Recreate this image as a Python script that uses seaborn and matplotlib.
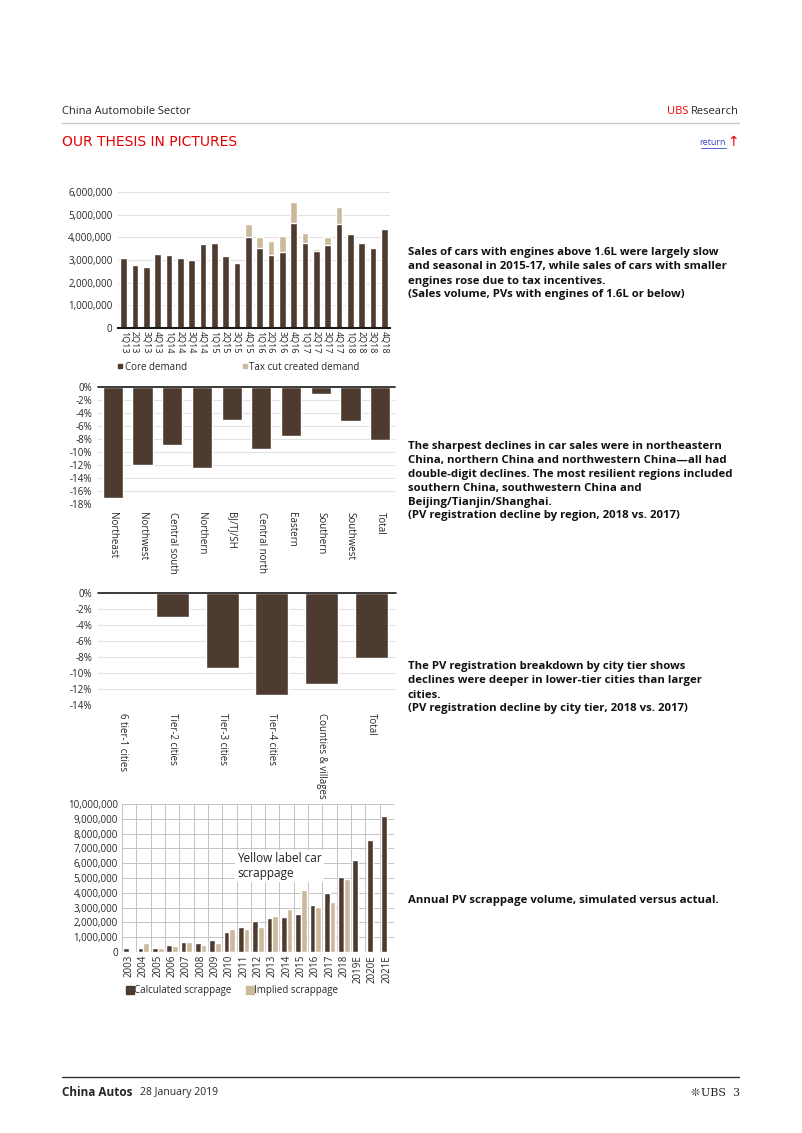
import numpy as np
import pandas as pd
import seaborn as sns
import matplotlib.pyplot as plt
from matplotlib.lines import Line2D
from matplotlib.ticker import FuncFormatter, FixedLocator

sns.set_style("white")
plt.rcParams['font.family'] = ['Open Sans', 'DejaVu Sans']

DARK = '#4d3b2f'
TAN = '#ccb99b'
RED = '#e60000'
GRID = '#e2e2e2'

# chart 1: quarterly PV sales, engines <= 1.6L (units)
quarters = ['1Q13', '2Q13', '3Q13', '4Q13', '1Q14', '2Q14', '3Q14', '4Q14',
            '1Q15', '2Q15', '3Q15', '4Q15', '1Q16', '2Q16', '3Q16', '4Q16',
            '1Q17', '2Q17', '3Q17', '4Q17', '1Q18', '2Q18', '3Q18', '4Q18']
core_demand = [3.08, 2.80, 2.68, 3.27, 3.23, 3.11, 3.01, 3.69,
               3.73, 3.19, 2.87, 4.00, 3.51, 3.24, 3.35, 4.65,
               3.77, 3.39, 3.68, 4.61, 4.16, 3.73, 3.53, 4.37]
tax_cut_demand = [0, 0, 0, 0, 0, 0, 0, 0,
                  0, 0, 0, 0.61, 0.49, 0.61, 0.69, 0.92,
                  0.42, 0.10, 0.32, 0.71, 0, 0, 0, 0]

# chart 2: PV registration change by region, 2018 vs 2017 (%)
regions = ['Northeast', 'Northwest', 'Central south', 'Northern', 'BJ/TJ/SH',
           'Central north', 'Eastern', 'Southern', 'Southwest', 'Total']
region_change = [-17.0, -12.0, -8.9, -12.5, -5.1, -9.5, -7.6, -1.0, -5.2, -8.2]

# chart 3: PV registration change by city tier (%)
tiers = ['6 tier-1 cities', 'Tier-2 cities', 'Tier-3 cities', 'Tier-4 cities',
         'Counties & villages', 'Total']
tier_change = [0.0, -3.0, -9.4, -12.7, -11.4, -8.1]

# chart 4: annual scrappage (million units)
years = ['2003', '2004', '2005', '2006', '2007', '2008', '2009', '2010', '2011',
         '2012', '2013', '2014', '2015', '2016', '2017', '2018',
         '2019E', '2020E', '2021E']
calculated = [0.27, 0.25, 0.27, 0.47, 0.67, 0.62, 0.80, 1.37, 1.67, 2.12,
              2.28, 2.38, 2.60, 3.20, 3.97, 5.10, 6.20, 7.60, 9.20]
implied = [np.nan, 0.60, 0.25, 0.42, 0.67, 0.45, 0.60, 1.57, 1.58, 1.72,
           2.40, 2.90, 4.20, 3.05, 3.40, 4.95, np.nan, np.nan, np.nan]

W, H = 802, 1133
fig = plt.figure(figsize=(W / 100, H / 100), dpi=100)


def px_axes(l, t, r, b):
    return fig.add_axes([l / W, 1 - b / H, (r - l) / W, (b - t) / H])


def fx(x):
    return x / W


def fy(y):
    return 1 - y / H


comma = FuncFormatter(lambda v, p: f'{int(round(v)):,}')
pct = FuncFormatter(lambda v, p: f'{int(round(v))}%')

# ---- chart 1
ax1 = px_axes(118, 192, 390, 328)
df1 = pd.DataFrame({'quarter': quarters,
                    'core': np.array(core_demand) * 1e6,
                    'total': (np.array(core_demand) + np.array(tax_cut_demand)) * 1e6})
sns.barplot(data=df1, x='quarter', y='total', color=TAN, width=0.6,
            saturation=1, ax=ax1)
sns.barplot(data=df1, x='quarter', y='core', color=DARK, width=0.6,
            saturation=1, ax=ax1)
ax1.set_ylim(0, 6e6)
ax1.set_yticks(np.arange(0, 6.1e6, 1e6))
ax1.yaxis.set_major_formatter(comma)
ax1.yaxis.grid(True, color=GRID, lw=0.8)
ax1.set_axisbelow(True)
for s in ['top', 'right', 'left']:
    ax1.spines[s].set_visible(False)
ax1.spines['bottom'].set_color('#1a1a1a')
ax1.spines['bottom'].set_linewidth(1.5)
ax1.tick_params(axis='x', labelrotation=-90, labelsize=6.5, length=0, pad=2)
ax1.tick_params(axis='y', labelsize=7, length=0, pad=4)
ax1.set_xlabel('')
ax1.set_ylabel('')
h1 = [Line2D([], [], marker='s', ls='none', color=DARK, markersize=3.5),
      Line2D([], [], marker='s', ls='none', color=TAN, markersize=3.5)]
fig.legend(h1, ['Core demand', 'Tax cut created demand'], loc='center',
           bbox_to_anchor=(fx(238), fy(367)), ncol=2, frameon=False,
           fontsize=7, handletextpad=0.1, columnspacing=5.5, handlelength=0.8)

# ---- chart 2
ax2 = px_axes(98, 387, 395, 504)
df2 = pd.DataFrame({'region': regions, 'change': region_change})
sns.barplot(data=df2, x='region', y='change', color=DARK, width=0.68,
            saturation=1, ax=ax2)
ax2.set_ylim(-18, 0)
ax2.set_yticks(np.arange(-18, 1, 2))
ax2.yaxis.set_major_formatter(pct)

# ---- chart 3
ax3 = px_axes(98, 593, 396, 705)
df3 = pd.DataFrame({'tier': tiers, 'change': tier_change})
sns.barplot(data=df3, x='tier', y='change', color=DARK, width=0.66,
            saturation=1, ax=ax3)
ax3.set_ylim(-14, 0)
ax3.set_yticks(np.arange(-14, 1, 2))
ax3.yaxis.set_major_formatter(pct)

for ax in (ax2, ax3):
    ax.yaxis.grid(True, color=GRID, lw=0.8)
    ax.set_axisbelow(True)
    for s in ax.spines.values():
        s.set_visible(False)
    ax.axhline(0, color='#1a1a1a', lw=1.2, clip_on=False)
    ax.tick_params(axis='x', labelrotation=-90, labelsize=7, length=0, pad=6)
    ax.tick_params(axis='y', labelsize=7, length=0, pad=4)
    ax.set_xlabel('')
    ax.set_ylabel('')

# ---- chart 4
ax4 = px_axes(122, 804, 394, 952)
df4 = pd.DataFrame({'year': years,
                    'Calculated scrappage': np.array(calculated) * 1e6,
                    'Implied scrappage': np.array(implied) * 1e6})
df4 = df4.melt(id_vars='year', var_name='series', value_name='units')
sns.barplot(data=df4, x='year', y='units', hue='series',
            palette=[DARK, TAN], width=0.8, gap=0, saturation=1,
            legend=False, ax=ax4)
ax4.set_ylim(0, 10e6)
ax4.set_yticks(np.arange(0, 10.1e6, 1e6))
ax4.yaxis.set_major_formatter(comma)
ax4.xaxis.set_minor_locator(FixedLocator(np.arange(-0.5, len(years), 1)))
ax4.set_xlim(-0.5, len(years) - 0.5)
ax4.yaxis.grid(True, color='#c4c4c4', lw=0.7)
ax4.xaxis.grid(True, which='minor', color='#c4c4c4', lw=0.7)
ax4.set_axisbelow(True)
for s in ax4.spines.values():
    s.set_visible(False)
ax4.tick_params(axis='x', labelrotation=90, labelsize=7, length=0, pad=2)
ax4.tick_params(axis='y', labelsize=7, length=0, pad=3)
ax4.tick_params(which='minor', length=0)
ax4.set_xlabel('')
ax4.set_ylabel('')
fig.text(fx(237), fy(866), 'Yellow label car\nscrappage', fontsize=8.5,
         va='center', ha='left', color='#222222', linespacing=1.1,
         bbox=dict(facecolor='white', edgecolor='none', pad=1.5))
h4 = [Line2D([], [], marker='s', ls='none', color=DARK, markersize=5.5),
      Line2D([], [], marker='s', ls='none', color=TAN, markersize=5.5)]
fig.legend(h4, ['Calculated scrappage', 'Implied scrappage'], loc='center',
           bbox_to_anchor=(fx(232), fy(991)), ncol=2, frameon=False,
           fontsize=7, handletextpad=0.0, columnspacing=1.6, handlelength=0.8)

# ---- page header / footer
fig.text(fx(62), fy(111), 'China Automobile Sector', fontsize=8, va='center')
fig.text(fx(739), fy(111), 'Research', fontsize=8, va='center', ha='right')
fig.text(fx(688), fy(111), 'UBS', fontsize=8, va='center', ha='right',
         color=RED)
fig.add_artist(Line2D([fx(62), fx(739)], [fy(123), fy(123)], color='#c8c8c8',
                      lw=1))
fig.text(fx(62), fy(142), 'OUR THESIS IN PICTURES', fontsize=10,
         va='center', color=RED, family=['DejaVu Sans'])
fig.text(fx(726), fy(143), 'return', fontsize=6.5, va='center', ha='right',
         color='#3344cc')
fig.add_artist(Line2D([fx(701), fx(726)], [fy(148), fy(148)], color='#3344cc',
                      lw=0.6))
fig.text(fx(739), fy(142), '↑', fontsize=10, va='center', ha='right',
         color=RED, family=['DejaVu Sans'])

fig.add_artist(Line2D([fx(62), fx(739)], [fy(1077), fy(1077)], color='#333333',
                      lw=1))
fig.text(fx(62), fy(1093), 'China Autos', fontsize=8.5, va='center',
         weight='bold')
fig.text(fx(140), fy(1093), '28 January 2019', fontsize=7.5, va='center')
fig.text(fx(740), fy(1093), 'UBS  3', fontsize=8, va='center', ha='right',
         family=['DejaVu Serif'])
fig.text(fx(700), fy(1093), '\u274a', fontsize=8, va='center', ha='right',
         color='#333333', family=['DejaVu Sans', 'Noto Sans CJK JP'])

# ---- commentary on the right (first line centre y in px, lines)
notes = [
    (253, ['Sales of cars with engines above 1.6L were largely slow',
           'and seasonal in 2015-17, while sales of cars with smaller',
           'engines rose due to tax incentives.',
           '(Sales volume, PVs with engines of 1.6L or below)']),
    (446, ['The sharpest declines in car sales were in northeastern',
           'China, northern China and northwestern China\u2014all had',
           'double-digit declines. The most resilient regions included',
           'southern China, southwestern China and',
           'Beijing/Tianjin/Shanghai.',
           '(PV registration decline by region, 2018 vs. 2017)']),
    (667, ['The PV registration breakdown by city tier shows',
           'declines were deeper in lower-tier cities than larger',
           'cities.',
           '(PV registration decline by city tier, 2018 vs. 2017)']),
    (901, ['Annual PV scrappage volume, simulated versus actual.']),
]
for y0, lines in notes:
    for i, line in enumerate(lines):
        fig.text(fx(408), fy(y0 + i * 14.0), line, fontsize=8.2,
                 weight='bold', va='center', ha='left', color='#111111')

fig.savefig('out.png', dpi=100)
